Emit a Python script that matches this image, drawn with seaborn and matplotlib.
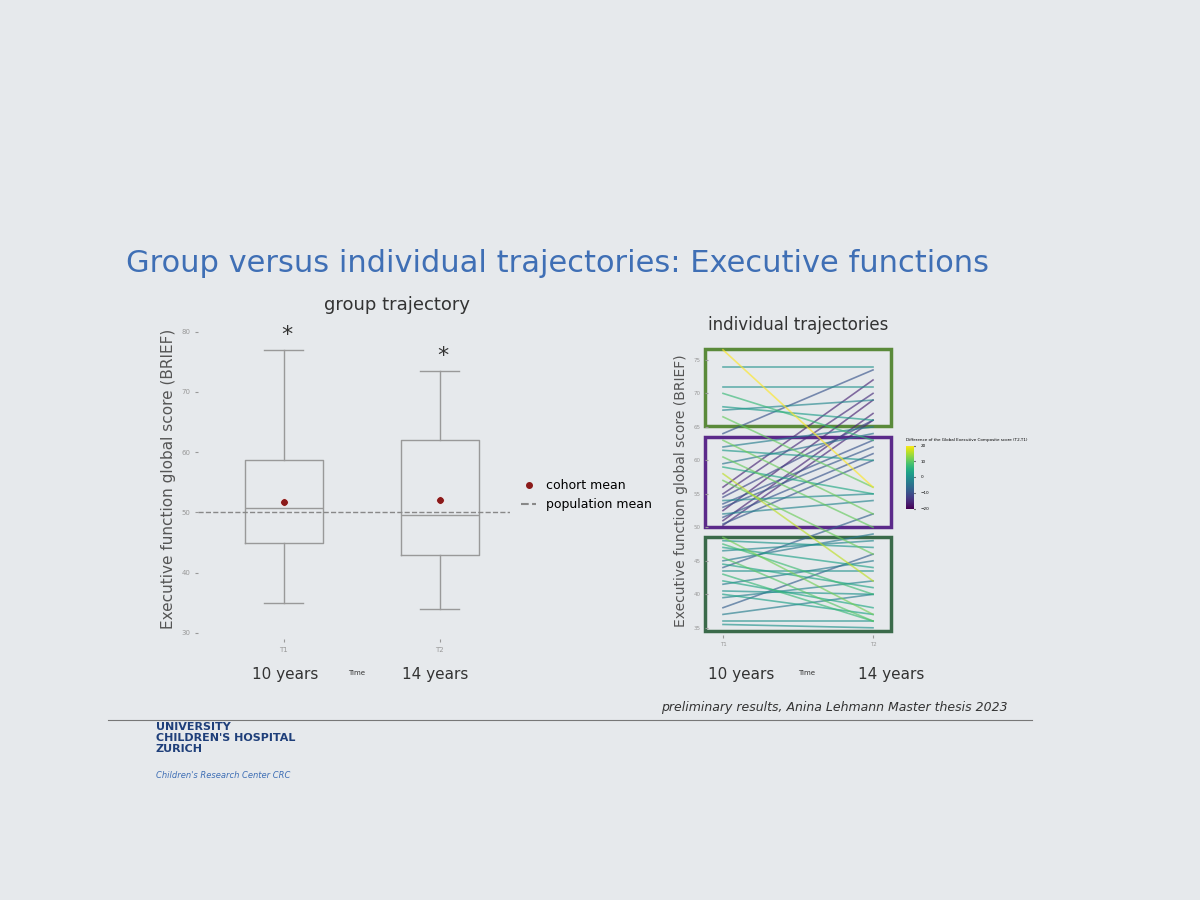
import numpy as np
import pandas as pd
import seaborn as sns
import matplotlib.pyplot as plt
from matplotlib.patches import Rectangle
from matplotlib.lines import Line2D

# group trajectory: box summaries
times = ['T1', 'T2']
box_low = [35, 34]
box_q1 = [45, 43]
box_med = [50.8, 49.5]
box_q3 = [58.7, 62]
box_high = [77, 73.5]
cohort_mean = [51.7, 52]
population_mean = 50

# individual trajectories (T1 -> T2)
t1 = [76.5, 74, 71, 70, 68, 67.5, 66.5, 64, 63, 62, 61.5, 60.5, 59.5, 59, 58, 57,
      56, 55, 54.5, 54, 53.5, 53, 52.5, 52, 51.5, 51, 50.5, 50.3,
      48.5, 48, 47.5, 47, 46.5, 45.5, 44.5, 43.5, 43, 42, 41.5, 40.5, 40, 39.5,
      38, 37, 36, 35.5, 45, 44]
t2 = [56, 74, 71, 63, 66, 69, 56, 73.5, 52, 65, 60, 50, 64, 55, 42, 46,
      72, 70, 66, 55, 63, 62, 69, 54, 61, 67, 60, 66,
      37, 47, 40, 44, 48, 36, 41, 43.5, 36, 38, 45, 40, 37, 42,
      46, 40, 36, 35, 49, 52]

fig = plt.figure(figsize=(12, 9), dpi=100)
fig.patch.set_facecolor('#e6e9ec')
fig.text(0.105, 0.698, 'Group versus individual trajectories: Executive functions',
         fontsize=22, color='#3f6fb5')
fig.text(0.27, 0.655, 'group trajectory', fontsize=13, color='#333333')
fig.text(0.59, 0.633, 'individual trajectories', fontsize=12, color='#333333')

# ---- left panel
ax = fig.add_axes([0.165, 0.29, 0.26, 0.355])
ax.set_facecolor('#e6e9ec')
stats = [dict(med=box_med[i], q1=box_q1[i], q3=box_q3[i], whislo=box_low[i],
              whishi=box_high[i], fliers=[], label=times[i]) for i in range(2)]
ax.bxp(stats, positions=[0, 1], widths=0.5, showfliers=False,
       boxprops=dict(color='#999999'), whiskerprops=dict(color='#999999'),
       capprops=dict(color='#999999'), medianprops=dict(color='#999999'))
sns.scatterplot(x=[0, 1], y=cohort_mean, color='#8b1a1a', s=30, ax=ax, zorder=5)
ax.axhline(population_mean, ls='--', color='#888888', lw=1)
for i in range(2):
    ax.text(i + 0.02, box_high[i] + 1.5, '*', ha='center', fontsize=16, color='#333333')
ax.set_xlim(-0.55, 1.45)
ax.set_ylim(29, 82)
ax.set_yticks([30, 40, 50, 60, 70, 80])
ax.set_xticks([0, 1])
ax.set_xticklabels(times)
ax.tick_params(labelsize=5, colors='#999999', length=2)
for s in ax.spines.values():
    s.set_visible(False)
ax.set_ylabel('Executive function global score (BRIEF)', fontsize=11, color='#555555')
ax.legend(handles=[Line2D([], [], marker='o', ls='', color='#8b1a1a', markersize=4, label='cohort mean'),
                   Line2D([], [], ls='--', color='#888888', label='population mean')],
          loc='center left', bbox_to_anchor=(1.0, 0.45), frameon=False, fontsize=9,
          handlelength=1.2)
fig.text(0.21, 0.245, '10 years', fontsize=11, color='#333333')
fig.text(0.29, 0.25, 'Time', fontsize=5, color='#333333')
fig.text(0.335, 0.245, '14 years', fontsize=11, color='#333333')

# ---- right panel
ax2 = fig.add_axes([0.59, 0.295, 0.15, 0.32])
ax2.set_facecolor('#e6e9ec')
df = pd.DataFrame({'id': np.repeat(np.arange(len(t1)), 2),
                   'time': np.tile([0, 1], len(t1)),
                   'score': np.ravel(np.column_stack([t1, t2]))})
diff = np.array(t1) - np.array(t2)
df['diff'] = np.repeat(diff, 2)
norm = plt.Normalize(-20, 20)
sns.lineplot(data=df, x='time', y='score', units='id', estimator=None, hue='diff',
             hue_norm=norm, palette='viridis', lw=1.2, alpha=0.65, legend=False, ax=ax2)
for (y0, h, c) in [(65.2, 11.5, '#5a8a3a'), (50, 13.5, '#5b2a8a'), (34.5, 14, '#3a6a4a')]:
    ax2.add_patch(Rectangle((-0.12, y0), 1.24, h, fill=False, lw=2.5, ec=c, clip_on=False))
ax2.set_xlim(-0.1, 1.1)
ax2.set_ylim(34, 77)
ax2.set_yticks([35, 40, 45, 50, 55, 60, 65, 70, 75])
ax2.set_xticks([0, 1])
ax2.set_xticklabels(times)
ax2.set_xlabel('')
ax2.tick_params(labelsize=4, colors='#999999', length=2)
for s in ax2.spines.values():
    s.set_visible(False)
ax2.set_ylabel('Executive function global score (BRIEF)', fontsize=10, color='#555555')
cax = fig.add_axes([0.755, 0.435, 0.007, 0.07])
cb = fig.colorbar(plt.cm.ScalarMappable(norm=norm, cmap='viridis'), cax=cax)
cb.set_ticks([-20, -10, 0, 10, 20])
cb.ax.tick_params(labelsize=3, length=1)
cb.outline.set_visible(False)
fig.text(0.755, 0.51, 'Difference of the Global Executive Composite score (T2-T1)', fontsize=3)
fig.text(0.59, 0.245, '10 years', fontsize=11, color='#333333')
fig.text(0.665, 0.25, 'Time', fontsize=5, color='#333333')
fig.text(0.715, 0.245, '14 years', fontsize=11, color='#333333')

fig.text(0.84, 0.21, 'preliminary results, Anina Lehmann Master thesis 2023',
         fontsize=9, style='italic', ha='right', color='#333333')
fig.add_artist(Line2D([0.09, 0.86], [0.2, 0.2], color='#777777', lw=0.8))
fig.text(0.13, 0.165, "UNIVERSITY\nCHILDREN'S HOSPITAL\nZURICH", fontsize=8,
         color='#1f3f7a', weight='bold', linespacing=1.1)
fig.text(0.13, 0.135, "Children's Research Center CRC", fontsize=6,
         color='#3f6fb5', style='italic')

fig.savefig('out.png', dpi=100, facecolor=fig.get_facecolor())
